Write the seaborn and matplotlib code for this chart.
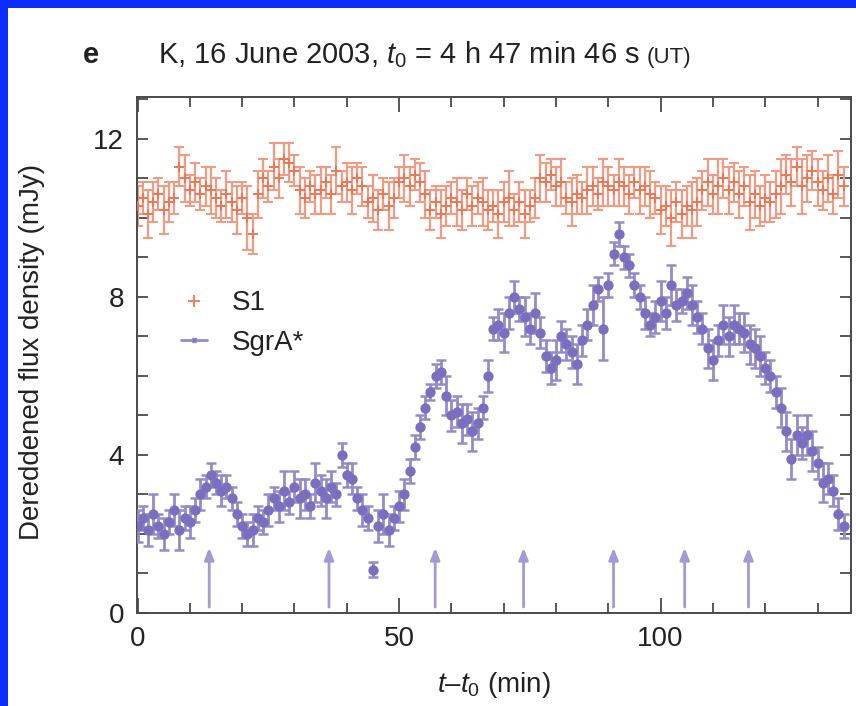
import numpy as np
import pandas as pd
import matplotlib
matplotlib.use("Agg")
import matplotlib.pyplot as plt
import seaborn as sns
from matplotlib.patches import Rectangle
from matplotlib.lines import Line2D
from matplotlib.ticker import FixedLocator, NullFormatter

# ---------------- data ----------------
t_min = [0, 1, 2, 3, 4, 5, 6, 7, 8, 9, 10, 11, 12, 13, 14, 15, 16, 17, 18, 19,
         20, 21, 22, 23, 24, 25, 26, 27, 28, 29, 30, 31, 32, 33, 34, 35, 36, 37, 38, 39,
         40, 41, 42, 43, 44, 45, 46, 47, 48, 49, 50, 51, 52, 53, 54, 55, 56, 57, 58, 59,
         60, 61, 62, 63, 64, 65, 66, 67, 68, 69, 70, 71, 72, 73, 74, 75, 76, 77, 78, 79,
         80, 81, 82, 83, 84, 85, 86, 87, 88, 89, 90, 91, 92, 93, 94, 95, 96, 97, 98, 99,
         100, 101, 102, 103, 104, 105, 106, 107, 108, 109, 110, 111, 112, 113, 114, 115,
         116, 117, 118, 119, 120, 121, 122, 123, 124, 125, 126, 127, 128, 129, 130, 131,
         132, 133, 134, 135]

s1_flux = [10.3, 10.5, 10.1, 10.4, 10.6, 10.2, 10.4, 10.5,
           11.3, 11.0,
           10.7, 10.9, 10.6, 10.8, 10.7,
           10.5, 10.3, 10.6, 10.4, 10.2, 10.5,
           10.0, 9.6,
           10.6, 11.0, 10.8, 11.3, 11.0,
           11.5, 11.4, 11.2,
           10.7, 10.5,
           10.8, 10.6, 10.7, 10.9, 10.6, 11.2,
           10.8, 10.9, 10.7, 11.0, 10.8,
           10.4, 10.5, 10.2, 10.6, 10.3, 10.5,
           10.9, 11.0, 10.8, 11.1, 10.9, 10.6,
           10.2, 10.4, 10.1, 10.3, 10.5,
           10.4, 10.2, 10.6, 10.3, 10.5, 10.4, 10.2,
           10.3, 10.1, 10.4, 10.5, 10.2, 10.4, 10.1, 10.3, 10.5,
           11.0, 10.9, 11.1, 10.8, 10.9,
           10.5, 10.4, 10.6, 10.5,
           10.7, 10.8, 10.6, 10.9, 10.8, 10.7, 10.9, 10.8, 10.6, 10.9, 10.7, 10.8,
           10.6, 10.5,
           10.2, 10.3, 10.0, 10.4, 10.1, 10.3, 10.2, 10.4,
           10.7, 10.9, 10.6, 10.8, 11.0, 10.7, 10.9, 10.6, 10.8,
           10.4, 10.6, 10.3, 10.5, 10.4, 10.6,
           10.8, 11.1, 10.9, 11.3, 10.8, 11.0, 11.2, 10.9,
           10.7, 11.0, 10.6, 11.1, 10.8]

s1_err = [0.5, 0.4, 0.6, 0.5, 0.4, 0.6, 0.5, 0.4, 0.5, 0.6,
          0.4, 0.5, 0.4, 0.5, 0.6, 0.5, 0.4, 0.6, 0.5, 0.6,
          0.4, 0.8, 0.5, 0.6, 0.5, 0.4, 0.6, 0.5, 0.4, 0.5,
          0.4, 0.6, 0.5, 0.4, 0.5, 0.6, 0.4, 0.5, 0.6, 0.4,
          0.5, 0.6, 0.4, 0.5, 0.4, 0.6, 0.5, 0.4, 0.6, 0.5,
          0.4, 0.6, 0.5, 0.4, 0.5, 0.6, 0.5, 0.4, 0.6, 0.5,
          0.4, 0.6, 0.5, 0.4, 0.5, 0.4, 0.6, 0.5, 0.4, 0.6,
          0.5, 0.7, 0.4, 0.5, 0.6, 0.4, 0.5, 0.6, 0.5, 0.4,
          0.5, 0.6, 0.4, 0.6, 0.5, 0.4, 0.6, 0.5, 0.4, 0.6,
          0.5, 0.4, 0.6, 0.5, 0.5, 0.4, 0.6, 0.5, 0.6, 0.4,
          0.6, 0.5, 0.7, 0.5, 0.6, 0.5, 0.7, 0.6, 0.5, 0.6,
          0.5, 0.7, 0.5, 0.6, 0.5, 0.6, 0.5, 0.7, 0.6, 0.5,
          0.6, 0.5, 0.6, 0.7, 0.5, 0.6, 0.5, 0.7, 0.6, 0.5,
          0.6, 0.5, 0.6, 0.5, 0.6, 0.5]

sgra_flux = [2.2, 2.4, 2.1, 2.5, 2.2, 2.0, 2.3, 2.6, 2.1, 2.4, 2.3,
             2.6, 3.0, 3.2, 3.5,
             3.3, 3.1, 3.2, 2.9,
             2.5, 2.2, 2.0, 2.1,
             2.4, 2.3, 2.6, 2.9, 2.7, 3.1,
             2.8, 3.2, 2.9, 3.0, 2.7, 3.3, 3.1, 2.9,
             3.2, 3.0, 4.0, 3.5, 3.4,
             2.9, 2.6, 2.4,
             1.1,
             2.2, 2.5, 2.1, 2.4, 2.7,
             3.0, 3.6,
             4.2, 4.7, 5.2, 5.6, 6.0,
             6.1,
             5.5, 5.0, 5.1,
             4.8, 4.9, 4.6, 4.8, 5.2,
             6.0, 7.2,
             7.3, 7.1, 7.6,
             8.0, 7.7,
             7.5, 7.2, 7.6, 7.1,
             6.5, 6.2, 6.4,
             7.0, 6.8, 6.6, 6.3,
             6.9, 7.3, 7.8, 8.2,
             7.2, 8.3,
             9.1, 9.6,
             9.0, 8.8,
             8.3, 8.0, 7.6,
             7.3, 7.5, 7.9,
             7.6, 8.3, 7.8,
             7.9, 8.1, 7.8, 7.5,
             7.2, 6.7, 6.4, 6.9,
             7.3, 7.0, 7.3, 7.2, 7.1,
             6.8, 6.7, 6.5, 6.2,
             6.0, 5.6, 5.2, 4.6,
             3.9, 4.5,
             4.3, 4.5, 4.1, 3.8,
             3.3, 3.4, 3.1,
             2.5, 2.2]

sgra_err = [0.4, 0.3, 0.4, 0.5, 0.3, 0.4, 0.3, 0.4, 0.5, 0.3,
            0.4, 0.3, 0.4, 0.3, 0.3, 0.3, 0.4, 0.3, 0.3, 0.3,
            0.3, 0.3, 0.4, 0.3, 0.3, 0.4, 0.3, 0.4, 0.5, 0.3,
            0.4, 0.5, 0.4, 0.3, 0.5, 0.4, 0.5, 0.4, 0.3, 0.3,
            0.3, 0.4, 0.3, 0.4, 0.3, 0.2, 0.4, 0.5, 0.4, 0.3,
            0.4, 0.4, 0.3, 0.3, 0.3, 0.3, 0.2, 0.3, 0.3, 0.5,
            0.4, 0.4, 0.5, 0.4, 0.5, 0.4, 0.3, 0.4, 0.3, 0.4,
            0.5, 0.4, 0.4, 0.3, 0.5, 0.4, 0.5, 0.4, 0.4, 0.4,
            0.5, 0.4, 0.4, 0.4, 0.5, 0.4, 0.4, 0.5, 0.3, 0.8,
            0.3, 0.3, 0.3, 0.3, 0.3, 0.3, 0.3, 0.4, 0.3, 0.4,
            0.5, 0.4, 0.5, 0.4, 0.3, 0.4, 0.5, 0.4, 0.4, 0.5,
            0.5, 0.4, 0.5, 0.5, 0.5, 0.4, 0.5, 0.5, 0.5, 0.5,
            0.4, 0.4, 0.4, 0.5, 0.5, 0.5, 0.5, 0.4, 0.5, 0.5,
            0.4, 0.5, 0.4, 0.4, 0.4, 0.3]

arrow_times = [13.7, 36.6, 56.9, 73.8, 91.0, 104.6, 116.8]
arrow_from = 0.15
arrow_to = 1.65

x_major = [0, 50, 100]
x_minor = [10, 20, 30, 40, 60, 70, 80, 90, 110, 120, 130]
y_major = [0, 4, 8, 12]
y_minor = [1, 2, 3, 5, 6, 7, 9, 10, 11, 13]

series_names = ["S1", "SgrA*"]

# ---------------- styling ----------------
sns.set_style("ticks")
plt.rcParams["font.family"] = ["Liberation Sans", "DejaVu Sans"]
plt.rcParams["mathtext.fontset"] = "custom"
plt.rcParams["mathtext.rm"] = "Liberation Sans"
plt.rcParams["mathtext.it"] = "Liberation Sans:italic"
plt.rcParams["mathtext.bf"] = "Liberation Sans:bold"

S1_COL = "#EC7756"
S1_ECOL = "#F29B82"
SG_COL = "#7A6EBE"
SG_ECOL = "#958BCB"
ARROW_COL = "#A29AD4"
SPINE_COL = "#4a4a4a"
TXT = "#222222"

df_s1 = pd.DataFrame({"t": t_min, "flux": s1_flux, "err": s1_err})
df_sg = pd.DataFrame({"t": t_min, "flux": sgra_flux, "err": sgra_err})

fig = plt.figure(figsize=(8.56, 7.06), dpi=100)
fig.patch.set_facecolor("#0B2DFE")
fig.add_artist(Rectangle((8 / 856, 0), 1.0, 1 - 8 / 706, transform=fig.transFigure,
                         facecolor="white", edgecolor="none", zorder=-10))

ax = fig.add_axes([136.5 / 856, 93 / 706, 714.5 / 856, 516.3 / 706])
ax.set_facecolor("white")

# error bars
ax.errorbar(df_s1["t"], df_s1["flux"], yerr=df_s1["err"], fmt="none",
            ecolor=S1_ECOL, elinewidth=1.6, capsize=3.4, capthick=1.5, zorder=2)
ax.errorbar(df_sg["t"], df_sg["flux"], yerr=df_sg["err"], fmt="none",
            ecolor=SG_ECOL, elinewidth=2.0, capsize=3.6, capthick=1.8, zorder=3)

# markers through seaborn
sns.scatterplot(data=df_s1, x="t", y="flux", marker="+", s=50, color=S1_COL,
                linewidth=1.4, ax=ax, zorder=4, legend=False)
sns.scatterplot(data=df_sg, x="t", y="flux", marker="o", s=55, color=SG_COL,
                edgecolor=SG_COL, linewidth=0, ax=ax, zorder=5, legend=False)

# arrows
for at in arrow_times:
    ax.annotate("", xy=(at, arrow_to), xytext=(at, arrow_from),
                arrowprops=dict(arrowstyle="-|>,head_length=0.7,head_width=0.28",
                                color=ARROW_COL, lw=2.0, shrinkA=0, shrinkB=0),
                zorder=1)

ax.set_xlim(-0.2, 136.4)
ax.set_ylim(0, 13.07)

ax.xaxis.set_major_locator(FixedLocator(x_major))
ax.xaxis.set_minor_locator(FixedLocator(x_minor))
ax.yaxis.set_major_locator(FixedLocator(y_major))
ax.yaxis.set_minor_locator(FixedLocator(y_minor))
ax.yaxis.set_minor_formatter(NullFormatter())
ax.xaxis.set_minor_formatter(NullFormatter())

ax.tick_params(axis="both", which="both", direction="in", top=True, right=True,
               color=SPINE_COL, width=1.3, labelcolor=TXT, labelsize=20)
ax.tick_params(axis="x", which="major", length=11, pad=9)
ax.tick_params(axis="x", which="minor", length=7)
ax.tick_params(axis="y", which="major", length=8, pad=9)
ax.tick_params(axis="y", which="minor", length=8)

for sp in ax.spines.values():
    sp.set_color(SPINE_COL)
    sp.set_linewidth(1.4)

ax.set_xlabel("")
ax.set_ylabel("")

# legend
handles = [
    Line2D([], [], linestyle="none", marker="+", markersize=8, markeredgewidth=1.3, color=S1_COL),
    Line2D([], [], linestyle="-", lw=2.0, marker="s", markersize=3, color=SG_ECOL,
           markerfacecolor=SG_COL),
]
ax.legend(handles, series_names, loc="upper left", bbox_to_anchor=(0.062, 0.625),
          frameon=False, fontsize=20, handlelength=0.95, handletextpad=0.9,
          labelspacing=0.5, borderpad=0, borderaxespad=0, labelcolor=TXT)

# axis titles
fig.text(32 / 856, (706 - 352) / 706, "Dereddened flux density (mJy)", rotation=90,
         ha="center", va="center", fontsize=20, color=TXT)
fig.text(494 / 856, 14 / 706, r"$t$–$t_0$ (min)", ha="center", va="baseline",
         fontsize=20, color=TXT)

# panel title
fig.text(83 / 856, (706 - 63) / 706, "e", fontweight="bold", fontsize=21,
         ha="left", va="baseline", color=TXT)
main = fig.text(158 / 856, (706 - 63) / 706, r"K, 16 June 2003, $t_0$ = 4 h 47 min 46 s",
                fontsize=21, ha="left", va="baseline", color=TXT)
fig.canvas.draw()
bb = main.get_window_extent(renderer=fig.canvas.get_renderer())
fig.text((bb.x1 + 7) / fig.bbox.width, (706 - 63) / 706, "(UT)", fontsize=16,
         ha="left", va="baseline", color=TXT)

fig.savefig("out.png", dpi=100, facecolor=fig.get_facecolor())
